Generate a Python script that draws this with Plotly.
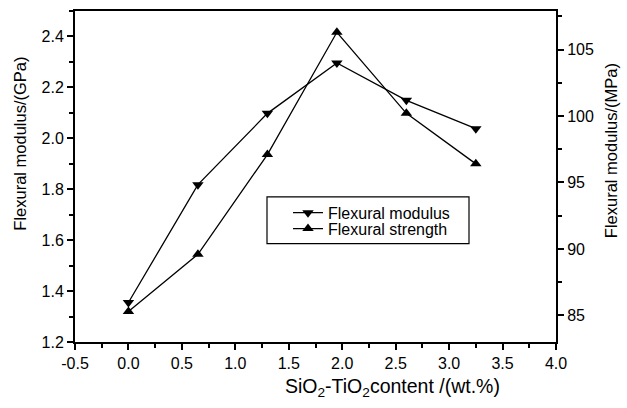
import plotly.graph_objects as go

content = [0, 0.65, 1.3, 1.95, 2.6, 3.25]
modulus_gpa = [1.355, 1.818, 2.098, 2.296, 2.149, 2.038]
strength_mpa = [85.3, 89.6, 97.1, 106.3, 100.2, 96.4]

x_ticks = [-0.5, 0.0, 0.5, 1.0, 1.5, 2.0, 2.5, 3.0, 3.5, 4.0]
x_tick_labels = ["-0.5", "0.0", "0.5", "1.0", "1.5", "2.0", "2.5", "3.0", "3.5", "4.0"]

FONT = "Liberation Sans, Arial, sans-serif"

fig = go.Figure()
fig.add_trace(go.Scatter(
    x=content, y=modulus_gpa, name="Flexural modulus",
    mode="lines+markers",
    line=dict(color="black", width=1.3),
    marker=dict(symbol="triangle-down", size=10, color="black"),
    yaxis="y", legend="legend"))
fig.add_trace(go.Scatter(
    x=content, y=strength_mpa, name="Flexural strength",
    mode="lines+markers",
    line=dict(color="black", width=1.3),
    marker=dict(symbol="triangle-up", size=10, color="black"),
    yaxis="y2", legend="legend2"))

tickfont = dict(family=FONT, size=16, color="black")
legfont = dict(family=FONT, size=16, color="black")

fig.update_layout(
    width=627, height=408,
    margin=dict(l=75, r=71, t=9, b=66),
    paper_bgcolor="white", plot_bgcolor="white",
    font=dict(family=FONT, color="black"),
    showlegend=True,
    legend=dict(x=(288 - 75) / 481, y=(342 - 212) / 333, xanchor="left", yanchor="middle",
                bgcolor="rgba(0,0,0,0)", borderwidth=0, font=legfont),
    legend2=dict(x=(288 - 75) / 481, y=(342 - 228) / 333, xanchor="left", yanchor="middle",
                 bgcolor="rgba(0,0,0,0)", borderwidth=0, font=legfont),
    xaxis=dict(range=[-0.5, 4.0], tickmode="array", tickvals=x_ticks, ticktext=x_tick_labels,
               showline=True, linecolor="black", linewidth=2, mirror=True,
               ticks="outside", ticklen=6, tickwidth=1.5, tickcolor="black",
               minor=dict(ticks="outside", ticklen=4, dtick=0.25, tick0=-0.5, tickwidth=1.5, tickcolor="black"),
               showgrid=False, zeroline=False, tickfont=tickfont),
    yaxis=dict(range=[1.2, 2.5], dtick=0.2, tick0=1.2, tickformat=".1f",
               showline=True, linecolor="black", linewidth=2,
               ticks="outside", ticklen=6, tickwidth=1.5, tickcolor="black",
               minor=dict(ticks="outside", ticklen=4, dtick=0.1, tickwidth=1.5, tickcolor="black"),
               showgrid=False, zeroline=False, tickfont=tickfont),
    yaxis2=dict(range=[83, 107.9], dtick=5, tick0=85, overlaying="y", side="right",
                showline=True, linecolor="black", linewidth=2,
                ticks="outside", ticklen=6, tickwidth=1.5, tickcolor="black",
                minor=dict(ticks="outside", ticklen=4, dtick=2.5, tickwidth=1.5, tickcolor="black"),
                showgrid=False, zeroline=False, tickfont=tickfont),
)

# legend frame
fig.add_shape(type="rect", xref="paper", yref="paper",
              x0=(267 - 75) / 481, x1=(469 - 75) / 481,
              y0=(342 - 243) / 333, y1=(342 - 196) / 333,
              line=dict(color="black", width=1.2), fillcolor="rgba(0,0,0,0)")

# axis titles
fig.add_annotation(text="SiO<sub>2</sub>-TiO<sub>2</sub>content /(wt.%)",
                   xref="paper", yref="paper", x=(392 - 75) / 481, y=(342 - 388) / 333,
                   xanchor="center", yanchor="middle", showarrow=False,
                   font=dict(family=FONT, size=19.5, color="black"))
fig.add_annotation(text="Flexural modulus/(GPa)", textangle=-90,
                   xref="paper", yref="paper", x=(20 - 75) / 481, y=(342 - 142.5) / 333,
                   xanchor="center", yanchor="middle", showarrow=False,
                   font=dict(family=FONT, size=16.5, color="black"))
fig.add_annotation(text="Flexural modulus/(MPa)", textangle=-90,
                   xref="paper", yref="paper", x=(611 - 75) / 481, y=(342 - 150) / 333,
                   xanchor="center", yanchor="middle", showarrow=False,
                   font=dict(family=FONT, size=16.5, color="black"))

fig.write_html("out.html")
